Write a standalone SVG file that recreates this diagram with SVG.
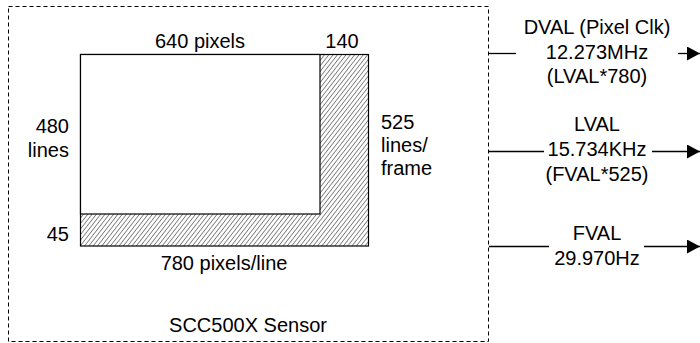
<svg xmlns="http://www.w3.org/2000/svg" width="700" height="343" viewBox="0 0 700 343">
<style>
text{font-family:"Liberation Sans",Arial,sans-serif;font-size:20px;fill:#000}
.m{text-anchor:middle}.e{text-anchor:end}
.ln{stroke:#000;stroke-width:1.3;fill:none}
</style>
<defs>
<pattern id="hatch" width="3.4" height="3.4" patternUnits="userSpaceOnUse" patternTransform="rotate(38)">
<line x1="0" y1="0" x2="0" y2="3.4" stroke="#000" stroke-width="0.9"/>
</pattern>
<marker id="arr" markerWidth="13" markerHeight="14" refX="13" refY="7" orient="auto" markerUnits="userSpaceOnUse">
<path d="M0,0 L13,7 L0,14 Z" fill="#000"/>
</marker>
</defs>
<g id="sensor">
<rect x="8.5" y="6.5" width="480" height="335" fill="none" stroke="#000" stroke-width="1" stroke-dasharray="4,3"/>
<rect x="80.5" y="54.5" width="288" height="191.5" fill="url(#hatch)" stroke="#000" stroke-width="1.2"/>
<rect x="80.5" y="54.5" width="239.5" height="159.5" fill="#fff" stroke="#000" stroke-width="1.2"/>
<text class="m" x="200" y="48">640 pixels</text>
<text class="m" x="342" y="48">140</text>
<text class="e" x="69" y="133">480</text>
<text class="e" x="69" y="157">lines</text>
<text class="e" x="69" y="241">45</text>
<text class="m" x="224" y="270">780 pixels/line</text>
<text x="381" y="129">525</text>
<text x="381" y="152">lines/</text>
<text x="381" y="175">frame</text>
<text class="m" x="248" y="332">SCC500X Sensor</text>
</g>
<g id="dval">
<text class="m" x="597" y="34">DVAL (Pixel Clk)</text>
<text class="m" x="597" y="59">12.273MHz</text>
<text class="m" x="597" y="83">(LVAL*780)</text>
</g>
<g id="lval">
<text class="m" x="597" y="131">LVAL</text>
<text class="m" x="597" y="156">15.734KHz</text>
<text class="m" x="597" y="181">(FVAL*525)</text>
</g>
<g id="fval">
<text class="m" x="597" y="240">FVAL</text>
<text class="m" x="597" y="265">29.970Hz</text>
</g>
<g id="connectors">
<line class="ln" x1="489" y1="53.5" x2="516" y2="53.5"/>
<line class="ln" x1="678" y1="53.5" x2="700" y2="53.5" marker-end="url(#arr)"/>
<line class="ln" x1="489" y1="151.5" x2="544" y2="151.5"/>
<line class="ln" x1="652" y1="151.5" x2="700" y2="151.5" marker-end="url(#arr)"/>
<line class="ln" x1="489" y1="246.5" x2="549" y2="246.5"/>
<line class="ln" x1="644" y1="246.5" x2="700" y2="246.5" marker-end="url(#arr)"/>
</g>
</svg>
